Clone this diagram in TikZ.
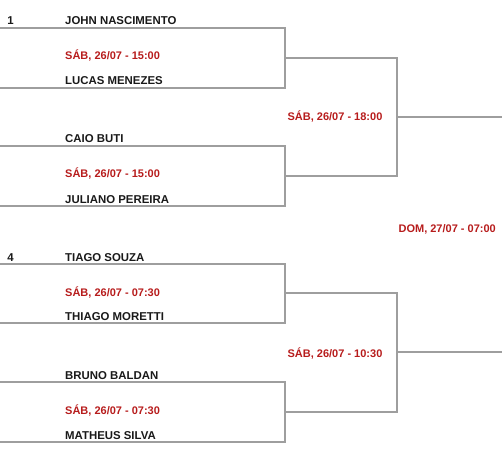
\documentclass[tikz,border=0pt]{standalone}
\usepackage{fontspec}
\setmainfont{Liberation Sans}
\definecolor{lin}{RGB}{158,158,158}
\definecolor{dred}{RGB}{183,28,28}
\definecolor{ink}{RGB}{25,25,25}
\begin{document}
\begin{tikzpicture}[x=1pt,y=-1pt,
  player/.style={anchor=base west, inner sep=0pt, font=\bfseries\fontsize{11.4}{13}\selectfont, text=ink},
  seed/.style={anchor=base, inner sep=0pt, font=\bfseries\fontsize{11.4}{13}\selectfont, text=ink},
  when/.style={anchor=base west, inner sep=0pt, font=\bfseries\fontsize{11}{13}\selectfont, text=dred},
  whenc/.style={anchor=base, inner sep=0pt, font=\bfseries\fontsize{11}{13}\selectfont, text=dred},
  wire/.style={draw=lin, line width=1.9pt}]
\useasboundingbox (0,0) rectangle (502,470);
% bracket corners
\coordinate (b1tl) at (0,28);  \coordinate (b1tr) at (285,28);  \coordinate (b1br) at (285,88);  \coordinate (b1bl) at (0,88);  \coordinate (b1m) at (285,58);
\coordinate (b2tl) at (0,146); \coordinate (b2tr) at (285,146); \coordinate (b2br) at (285,206); \coordinate (b2bl) at (0,206); \coordinate (b2m) at (285,176);
\coordinate (b3tl) at (0,264); \coordinate (b3tr) at (285,264); \coordinate (b3br) at (285,323); \coordinate (b3bl) at (0,323); \coordinate (b3m) at (285,293);
\coordinate (b4tl) at (0,382); \coordinate (b4tr) at (285,382); \coordinate (b4br) at (285,442); \coordinate (b4bl) at (0,442); \coordinate (b4m) at (285,412);
\coordinate (r1a) at (397,58);  \coordinate (r1b) at (397,176); \coordinate (r1m) at (397,117); \coordinate (f1) at (502,117);
\coordinate (r2a) at (397,293); \coordinate (r2b) at (397,412); \coordinate (r2m) at (397,352); \coordinate (f2) at (502,352);
% wires
\draw[wire] (b1tl) -- (b1tr) -- (b1br) -- (b1bl);
\draw[wire] (b2tl) -- (b2tr) -- (b2br) -- (b2bl);
\draw[wire] (b3tl) -- (b3tr) -- (b3br) -- (b3bl);
\draw[wire] (b4tl) -- (b4tr) -- (b4br) -- (b4bl);
\draw[wire] (b1m) -- (r1a) -- (r1b) -- (b2m);
\draw[wire] (b3m) -- (r2a) -- (r2b) -- (b4m);
\draw[wire] (r1m) -- (f1);
\draw[wire] (r2m) -- (f2);
% texts
\node[seed] (s1) at (10.5,25) {1};
\node[player] (p1) at (65,25) {JOHN NASCIMENTO};
\node[when] (d1) at (65,60) {SÁB, 26/07 - 15:00};
\node[player] (p2) at (65,85) {LUCAS MENEZES};
\node[player] (p3) at (65,143) {CAIO BUTI};
\node[when] (d2) at (65,178) {SÁB, 26/07 - 15:00};
\node[player] (p4) at (65,203) {JULIANO PEREIRA};
\node[seed] (s4) at (10.5,261) {4};
\node[player] (p5) at (65,261) {TIAGO SOUZA};
\node[when] (d3) at (65,296) {SÁB, 26/07 - 07:30};
\node[player] (p6) at (65,320) {THIAGO MORETTI};
\node[player] (p7) at (65,379) {BRUNO BALDAN};
\node[when] (d4) at (65,414) {SÁB, 26/07 - 07:30};
\node[player] (p8) at (65,439) {MATHEUS SILVA};
\node[whenc] (e1) at (335,121) {SÁB, 26/07 - 18:00};
\node[whenc] (e2) at (335,357) {SÁB, 26/07 - 10:30};
\node[anchor=base east, inner sep=0pt, font=\bfseries\fontsize{11}{13}\selectfont, text=dred] (fd) at (496,232) {DOM, 27/07 - 07:00};
\end{tikzpicture}
\end{document}
